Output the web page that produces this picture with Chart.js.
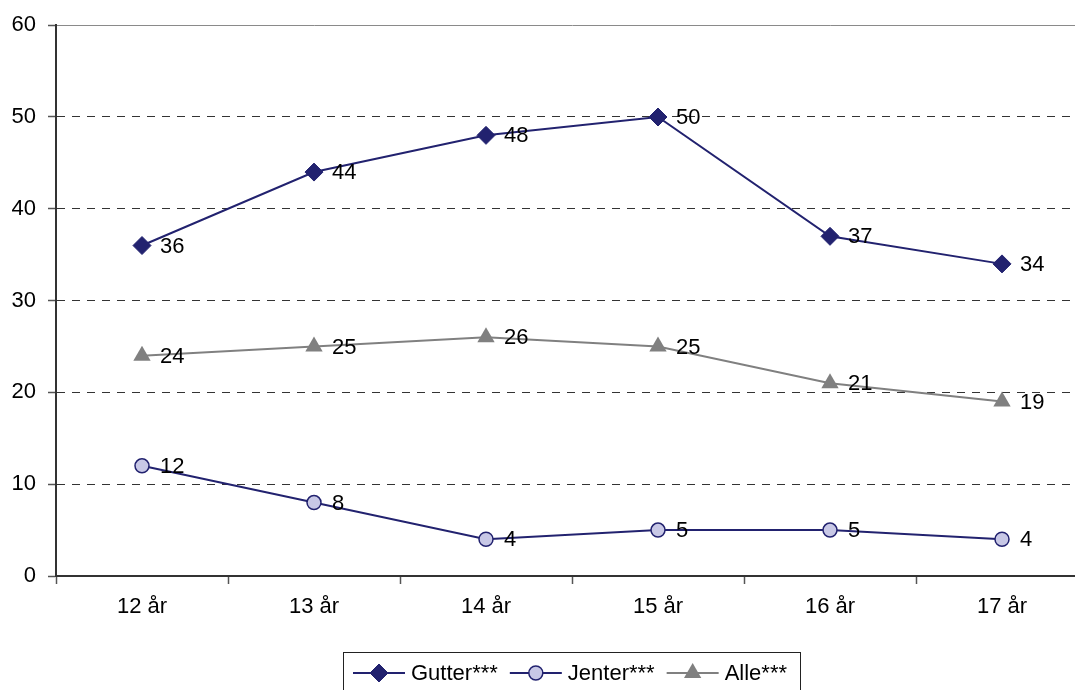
<!DOCTYPE html>
<html>
<head>
<meta charset="utf-8">
<script src="https://cdn.jsdelivr.net/npm/chart.js@4/dist/chart.umd.min.js"></script>
<style>
  html, body { margin: 0; padding: 0; background: #fff; overflow: hidden; }
  #wrap { position: relative; width: 1142px; height: 690px; }
</style>
</head>
<body>
<div id="wrap"><canvas id="c"></canvas></div>
<script>
// Age groups and shares per group
const categories = ['12 år', '13 år', '14 år', '15 år', '16 år', '17 år'];
const gutter = [36, 44, 48, 50, 37, 34];
const jenter = [12, 8, 4, 5, 5, 4];
const alle = [24, 25, 26, 25, 21, 19];
const seriesNames = ['Gutter***', 'Jenter***', 'Alle***'];
const yMin = 0, yMax = 60, yStep = 10;

const FONT = '"Liberation Sans", Arial, Helvetica, sans-serif';
const NAVY = '#22226F';
const LILAC = '#C8C8E6';
const GREY = '#808080';

Chart.defaults.font.family = FONT;
Chart.defaults.color = '#000';

// Marker path used by the boxed legend (mirrors the point styles in the plot)
function drawMarker(ctx, ds, x, y) {
  const r = ds.pointRadius;
  ctx.save();
  ctx.fillStyle = ds.pointBackgroundColor;
  ctx.strokeStyle = ds.pointBorderColor;
  ctx.lineWidth = ds.pointBorderWidth;
  ctx.beginPath();
  if (ds.pointStyle === 'rectRot') {
    ctx.moveTo(x, y - r); ctx.lineTo(x + r, y); ctx.lineTo(x, y + r); ctx.lineTo(x - r, y);
    ctx.closePath();
  } else if (ds.pointStyle === 'triangle') {
    const h = r * 1.5, half = r * Math.sqrt(3) / 2;
    ctx.moveTo(x, y - r); ctx.lineTo(x + half, y - r + h); ctx.lineTo(x - half, y - r + h);
    ctx.closePath();
  } else {
    ctx.arc(x, y, r, 0, Math.PI * 2);
  }
  ctx.fill();
  if (ds.pointBorderWidth > 0) ctx.stroke();
  ctx.restore();
}

// Value printed to the right of every point
const valueLabels = {
  id: 'valueLabels',
  afterDatasetsDraw(chart) {
    const ctx = chart.ctx;
    ctx.save();
    ctx.font = '22px ' + FONT;
    ctx.fillStyle = '#000';
    ctx.textAlign = 'left';
    ctx.textBaseline = 'middle';
    chart.data.datasets.forEach((ds, i) => {
      chart.getDatasetMeta(i).data.forEach((pt, j) => {
        ctx.fillText(String(ds.data[j]), pt.x + 18, pt.y + 1);
      });
    });
    ctx.restore();
  }
};

// Framed legend below the plot, line + marker samples
const legendBox = {
  id: 'legendBox',
  afterDraw(chart) {
    const ctx = chart.ctx;
    const area = chart.chartArea;
    ctx.save();
    ctx.font = '22px ' + FONT;
    const lineLen = 52, gapText = 6, gapItem = 12, padL = 10, padR = 13;
    const items = chart.data.datasets.map(ds => ({ ds, w: ctx.measureText(ds.label).width }));
    let total = padL + padR;
    items.forEach((it, i) => {
      total += lineLen + gapText + it.w + (i < items.length - 1 ? gapItem : 0);
    });
    const cx = (area.left + area.right) / 2;
    const left = Math.round(cx - total / 2);
    const top = 652, cy = 673;
    ctx.strokeStyle = '#222';
    ctx.lineWidth = 1;
    ctx.strokeRect(left + 0.5, top + 0.5, Math.round(total), 60);
    let x = left + padL;
    items.forEach(it => {
      const ds = it.ds;
      ctx.strokeStyle = ds.borderColor;
      ctx.lineWidth = ds.borderWidth;
      ctx.beginPath();
      ctx.moveTo(x, cy); ctx.lineTo(x + lineLen, cy);
      ctx.stroke();
      drawMarker(ctx, ds, x + lineLen / 2, cy);
      ctx.fillStyle = '#000';
      ctx.textAlign = 'left';
      ctx.textBaseline = 'middle';
      ctx.fillText(ds.label, x + lineLen + gapText, cy + 1);
      x += lineLen + gapText + it.w + gapItem;
    });
    ctx.restore();
  }
};

new Chart(document.getElementById('c'), {
  type: 'line',
  data: {
    labels: categories,
    datasets: [
      {
        label: seriesNames[0], data: gutter,
        borderColor: NAVY, backgroundColor: NAVY, borderWidth: 2,
        pointStyle: 'rectRot', pointRadius: 9,
        pointBackgroundColor: NAVY, pointBorderColor: NAVY, pointBorderWidth: 1,
        tension: 0
      },
      {
        label: seriesNames[1], data: jenter,
        borderColor: NAVY, backgroundColor: LILAC, borderWidth: 2,
        pointStyle: 'circle', pointRadius: 7,
        pointBackgroundColor: LILAC, pointBorderColor: NAVY, pointBorderWidth: 1.5,
        tension: 0
      },
      {
        label: seriesNames[2], data: alle,
        borderColor: GREY, backgroundColor: GREY, borderWidth: 2,
        pointStyle: 'triangle', pointRadius: 10,
        pointBackgroundColor: GREY, pointBorderColor: GREY, pointBorderWidth: 0,
        tension: 0
      }
    ]
  },
  options: {
    responsive: true,
    maintainAspectRatio: false,
    animation: false,
    layout: { padding: { top: 23, right: 54, bottom: 74, left: 0 } },
    plugins: {
      legend: { display: false },
      tooltip: { enabled: false }
    },
    scales: {
      x: {
        type: 'category',
        offset: true,
        grid: {
          offset: true, drawOnChartArea: false, drawTicks: true,
          tickLength: 8, tickColor: '#555', tickWidth: 1.5
        },
        border: { color: '#333', width: 2 },
        ticks: { color: '#000', font: { size: 22 }, padding: 10, maxRotation: 0, autoSkip: false },
        afterFit: s => { s.height = 40; }
      },
      y: {
        min: yMin, max: yMax,
        ticks: { stepSize: yStep, color: '#000', font: { size: 22 }, padding: 12 },
        grid: {
          color: c => (c.tick && c.tick.value === yMax) ? '#8a8a8a' : (c.tick && c.tick.value === yMin ? 'rgba(0,0,0,0)' : '#333'),
          lineWidth: 1, tickLength: 8, tickColor: '#555', tickWidth: 1.5
        },
        border: {
          color: '#333', width: 2,
          dash: c => (c.tick && c.tick.value === yMax) ? [] : [8, 7]
        },
        afterFit: s => { s.width = 56; }
      }
    }
  },
  plugins: [valueLabels, legendBox]
});
</script>
</body>
</html>
